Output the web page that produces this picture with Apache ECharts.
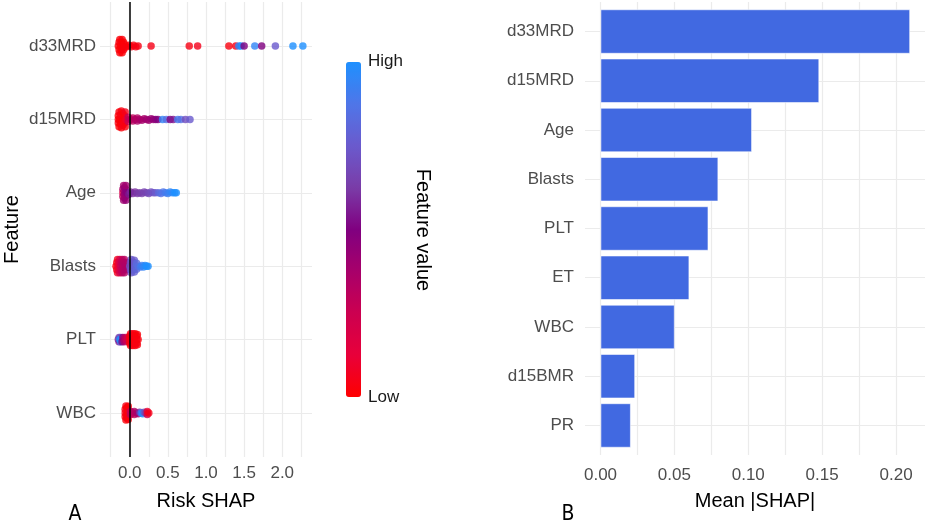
<!DOCTYPE html>
<html>
<head>
<meta charset="utf-8">
<script src="https://cdn.jsdelivr.net/npm/echarts@6/dist/echarts.min.js"></script>
<style>
    html, body {
        margin: 0;
        padding: 0;
        background: #fff;
    }
    #chart {
        width: 927px;
        height: 526px;
    }
</style>
</head>
<body>
<div id="chart"></div>
<script>
// panel A: beeswarm, one row per feature (top to bottom)
const features = ['d33MRD', 'd15MRD', 'Age', 'Blasts', 'PLT', 'WBC'];

// each point: [SHAP value, vertical swarm offset (rows), feature value 0..1]
const pts_d33MRD = [
    [-0.15, 0, 0.02], [-0.14, 0.05, 0.01], [-0.14, -0.05, 0.03], [-0.13, 0.09, 0.02], [-0.13, -0.09, 0.02],
    [-0.12, 0, 0.01], [-0.11, 0.05, 0.02], [-0.11, -0.05, 0.03], [-0.10, 0.09, 0.01], [-0.10, -0.09, 0.02],
    [-0.09, 0, 0.02], [-0.08, 0.05, 0.03], [-0.08, -0.05, 0.01], [-0.07, 0.02, 0.02], [-0.07, -0.02, 0.02],
    [-0.04, 0.01, 0.03], [-0.01, -0.01, 0.02], [0.02, 0.01, 0.04], [0.05, -0.01, 0.03], [0.08, 0.01, 0.05],
    [0.11, 0, 0.04], [0.28, 0, 0.05], [0.78, 0, 0.04], [0.89, 0, 0.06], [1.30, 0, 0.03], [1.39, 0, 0.05],
    [1.43, 0, 0.95], [1.46, 0, 1.0], [1.50, 0, 0.5], [1.64, 0, 0.95], [1.73, 0, 0.5], [1.91, 0, 0.75],
    [2.14, 0, 1.0], [2.27, 0, 1.0],
];
const pts_d15MRD = [
    [-0.15, 0, 0.02], [-0.15, 0.05, 0.03], [-0.15, -0.05, 0.01], [-0.14, 0.10, 0.02], [-0.14, -0.10, 0.03],
    [-0.13, 0, 0.02], [-0.12, 0.06, 0.01], [-0.12, -0.06, 0.04], [-0.11, 0.115, 0.02], [-0.11, -0.115, 0.03],
    [-0.10, 0.02, 0.02], [-0.09, 0.08, 0.05], [-0.09, -0.08, 0.02], [-0.08, 0, 0.03], [-0.07, 0.05, 0.04],
    [-0.07, -0.05, 0.02], [-0.06, 0.10, 0.03], [-0.06, -0.10, 0.06], [-0.05, 0, 0.08],
    [-0.02, 0.03, 0.25], [-0.02, -0.03, 0.28], [0.01, 0, 0.30], [0.04, 0.02, 0.32], [0.04, -0.02, 0.30],
    [0.07, 0, 0.34], [0.10, 0.02, 0.36], [0.10, -0.02, 0.33], [0.13, 0, 0.36], [0.16, 0.01, 0.38],
    [0.19, -0.01, 0.37], [0.22, 0, 0.40], [0.25, 0.01, 0.40], [0.28, -0.01, 0.42], [0.31, 0, 0.44],
    [0.34, 0, 0.46], [0.37, 0, 0.50], [0.43, 0, 0.95], [0.48, 0, 0.85], [0.53, 0, 0.50], [0.57, 0, 0.55],
    [0.63, 0, 0.90], [0.67, 0, 0.85], [0.73, 0, 0.70], [0.79, 0, 0.75],
];
const pts_Age = [
    [-0.09, 0, 0.15], [-0.09, 0.05, 0.30], [-0.09, -0.05, 0.35], [-0.08, 0.10, 0.40], [-0.08, -0.10, 0.38],
    [-0.07, 0.02, 0.42], [-0.07, 0.07, 0.40], [-0.07, -0.07, 0.44], [-0.06, 0, 0.45], [-0.05, 0.04, 0.42],
    [-0.05, -0.04, 0.46], [-0.05, 0.10, 0.44], [-0.05, -0.10, 0.40], [-0.04, 0, 0.48],
    [-0.01, 0.02, 0.55], [0.01, -0.01, 0.58], [0.04, 0.01, 0.60], [0.07, -0.01, 0.60], [0.10, 0.01, 0.62],
    [0.13, 0, 0.63], [0.16, 0.01, 0.64], [0.19, -0.01, 0.65], [0.22, 0, 0.66], [0.25, 0.01, 0.68],
    [0.28, -0.01, 0.70], [0.31, 0, 0.72], [0.34, 0, 0.75], [0.38, 0, 0.82], [0.41, 0.01, 0.85],
    [0.44, -0.01, 0.87], [0.47, 0, 0.90], [0.50, 0.01, 0.92], [0.53, -0.01, 0.95], [0.56, 0, 0.97],
    [0.59, 0, 1.0], [0.61, 0, 1.0],
];
const pts_Blasts = [
    [-0.18, 0, 0.03], [-0.17, 0.05, 0.05], [-0.17, -0.05, 0.04], [-0.16, 0.09, 0.08], [-0.16, -0.09, 0.06],
    [-0.15, 0, 0.10], [-0.14, 0.05, 0.15], [-0.14, -0.05, 0.18], [-0.13, 0.09, 0.22], [-0.13, -0.09, 0.20],
    [-0.12, 0, 0.26], [-0.11, 0.05, 0.28], [-0.11, -0.05, 0.30], [-0.10, 0.09, 0.30], [-0.10, -0.09, 0.28],
    [-0.09, 0, 0.32], [-0.08, 0.05, 0.33], [-0.08, -0.05, 0.35], [-0.07, 0.09, 0.34], [-0.07, -0.09, 0.32],
    [-0.06, 0, 0.35], [-0.05, 0.05, 0.36], [-0.05, -0.05, 0.34],
    [0.00, 0, 0.70], [0.01, 0.05, 0.72], [0.01, -0.05, 0.70], [0.02, 0.09, 0.74], [0.02, -0.09, 0.73],
    [0.04, 0, 0.75], [0.05, 0.05, 0.76], [0.05, -0.05, 0.74], [0.06, 0.08, 0.78], [0.06, -0.08, 0.75],
    [0.08, 0, 0.80], [0.09, 0.04, 0.80], [0.09, -0.04, 0.82], [0.11, 0, 0.84], [0.14, 0.01, 0.90],
    [0.16, -0.01, 0.92], [0.18, 0.01, 0.95], [0.20, -0.01, 0.97], [0.22, 0, 1.0], [0.24, 0, 1.0],
];
const pts_PLT = [
    [-0.15, 0, 0.60], [-0.14, 0.03, 0.55], [-0.14, -0.03, 0.65], [-0.12, 0.03, 0.85], [-0.12, -0.03, 0.70],
    [-0.11, 0, 0.90], [-0.13, 0, 1.0], [-0.10, 0.03, 0.50], [-0.09, -0.03, 0.45], [-0.08, 0, 0.40],
    [-0.07, 0.03, 0.35], [-0.06, -0.03, 0.30], [-0.05, 0, 0.30], [-0.04, 0.02, 0.25], [-0.03, -0.02, 0.20],
    [0.00, 0, 0.05], [0.00, 0.05, 0.03], [0.00, -0.05, 0.04], [0.01, 0.08, 0.02], [0.01, -0.08, 0.05],
    [0.03, 0, 0.03], [0.03, 0.05, 0.04], [0.03, -0.05, 0.02], [0.04, 0.08, 0.03], [0.04, -0.08, 0.05],
    [0.06, 0, 0.04], [0.06, 0.05, 0.02], [0.06, -0.05, 0.03], [0.07, 0.08, 0.04], [0.07, -0.08, 0.03],
    [0.09, 0, 0.02], [0.09, 0.05, 0.05], [0.09, -0.05, 0.04], [0.10, 0.07, 0.03], [0.10, -0.07, 0.02],
    [0.11, 0, 0.03],
];
const pts_WBC = [
    [-0.06, 0, 0.05], [-0.06, 0.05, 0.03], [-0.06, -0.05, 0.04], [-0.05, 0.095, 0.02], [-0.05, -0.095, 0.05],
    [-0.04, 0.02, 0.03], [-0.04, 0.07, 0.04], [-0.04, -0.07, 0.02], [-0.03, 0, 0.04], [-0.03, 0.05, 0.03],
    [-0.02, -0.04, 0.05], [-0.02, 0.09, 0.03], [-0.02, -0.09, 0.02],
    [0.01, 0.02, 0.30], [0.01, -0.02, 0.28], [0.04, 0, 0.32], [0.06, 0.02, 0.30], [0.06, -0.02, 0.34],
    [0.09, 0, 0.35], [0.11, 0.01, 0.38], [0.13, -0.01, 0.60], [0.15, 0, 0.95], [0.17, 0.01, 1.0],
    [0.19, -0.01, 0.70], [0.21, 0, 0.65], [0.23, 0.02, 0.20], [0.23, -0.02, 0.10], [0.25, 0, 0.05],
];
const swarmRows = [pts_d33MRD, pts_d15MRD, pts_Age, pts_Blasts, pts_PLT, pts_WBC];

const shapTicks = [-0.25, 0, 0.25, 0.5, 0.75, 1, 1.25, 1.5, 1.75, 2, 2.25];
const shapLabels = [0, 0.5, 1, 1.5, 2];

// panel B: mean |SHAP| bars (top to bottom)
const barNames = ['d33MRD', 'd15MRD', 'Age', 'Blasts', 'PLT', 'ET', 'WBC', 'd15BMR', 'PR'];
const barValues = [0.2095, 0.148, 0.1025, 0.0797, 0.073, 0.0601, 0.0502, 0.0234, 0.0205];
const meanTicks = [0, 0.025, 0.05, 0.075, 0.1, 0.125, 0.15, 0.175, 0.2];
const meanLabels = [0, 0.05, 0.1, 0.15, 0.2];

const FONT = '"Liberation Sans", Arial, sans-serif';
const GRID_LINE = { lineStyle: { color: '#EBEBEB', width: 1.2 } };
const tickLabel = {
    color: '#4D4D4D',
    fontSize: 17,
    fontFamily: FONT,
};
const axisTitle = {
    color: '#000',
    fontSize: 20,
    fontFamily: FONT,
};

let swarmData = [];
swarmRows.forEach((rows, idx) => {
    rows.forEach((p) => {
        swarmData.push([p[0], idx + p[1], p[2]]);
    });
});

const option = {
    animation: false,
    grid: [
        { left: 100, right: 615, top: 2, bottom: 69 },
        { left: 585, right: 2, top: 2, bottom: 71 },
        { left: 585, right: 2, top: 6.9, bottom: 75.9 },
    ],
    xAxis: [{
        gridIndex: 0,
        type: 'value',
        min: -0.39,
        max: 2.39,
        name: 'Risk SHAP',
        nameLocation: 'middle',
        nameGap: 34,
        nameTextStyle: axisTitle,
        axisLine: { show: false },
        axisTick: { show: false, customValues: shapTicks },
        axisLabel: Object.assign({}, tickLabel, {
            margin: 8,
            customValues: shapLabels,
            formatter: (v) => v.toFixed(1),
        }),
        splitLine: Object.assign({ show: true }, GRID_LINE),
    }, {
        gridIndex: 1,
        type: 'value',
        min: -0.0105,
        max: 0.2196,
        name: 'Mean |SHAP|',
        nameLocation: 'middle',
        nameGap: 36,
        nameTextStyle: axisTitle,
        axisLine: { show: false },
        axisTick: { show: false, customValues: meanTicks },
        axisLabel: Object.assign({}, tickLabel, {
            margin: 12,
            customValues: meanLabels,
            formatter: (v) => v.toFixed(2),
        }),
        splitLine: Object.assign({ show: true }, GRID_LINE),
    }, {
        gridIndex: 2,
        type: 'value',
        min: -0.0105,
        max: 0.2196,
        show: false,
    }],
    yAxis: [{
        gridIndex: 0,
        type: 'value',
        inverse: true,
        min: -0.6,
        max: 5.6,
        name: 'Feature',
        nameLocation: 'middle',
        nameGap: 78,
        nameTextStyle: axisTitle,
        axisLine: { show: false },
        axisTick: { show: false, customValues: [0, 1, 2, 3, 4, 5] },
        axisLabel: Object.assign({}, tickLabel, {
            margin: 4,
            customValues: [0, 1, 2, 3, 4, 5],
            formatter: (v) => features[v],
        }),
        splitLine: Object.assign({ show: true }, GRID_LINE),
    }, {
        gridIndex: 1,
        type: 'value',
        inverse: true,
        min: -0.6,
        max: 8.6,
        axisLine: { show: false },
        axisTick: { show: false, customValues: [0, 1, 2, 3, 4, 5, 6, 7, 8] },
        axisLabel: Object.assign({}, tickLabel, {
            margin: 11,
            customValues: [0, 1, 2, 3, 4, 5, 6, 7, 8],
            formatter: (v) => barNames[v],
        }),
        splitLine: Object.assign({ show: true }, GRID_LINE),
    }, {
        gridIndex: 2,
        type: 'category',
        inverse: true,
        data: barNames,
        show: false,
    }],
    visualMap: {
        type: 'continuous',
        seriesIndex: 0,
        dimension: 2,
        min: 0,
        max: 1,
        left: 346,
        top: 62,
        padding: 0,
        itemWidth: 15,
        itemHeight: 335,
        calculable: false,
        hoverLink: false,
        text: null,
        inRange: {
            color: ['#FF0000', '#E8003A', '#CC0050', '#A8006A', '#800080',
                    '#7A3CA8', '#6A5ACD', '#4F76E8', '#1E90FF'],
        },
    },
    series: [{
        type: 'scatter',
        xAxisIndex: 0,
        yAxisIndex: 0,
        symbolSize: 7.5,
        data: swarmData,
        markLine: {
            silent: true,
            symbol: ['none', 'none'],
            label: { show: false },
            lineStyle: { color: '#000', width: 1.5, type: 'solid' },
            data: [{ xAxis: 0 }],
        },
    }, {
        type: 'bar',
        xAxisIndex: 2,
        yAxisIndex: 2,
        data: barValues,
        barCategoryGap: '10%',
        itemStyle: {
            color: '#4169E1',
            borderColor: 'rgba(255, 255, 255, 0.7)',
            borderWidth: 0.8,
        },
    }],
    graphic: [{
        type: 'text',
        left: 368,
        top: 53,
        style: { text: 'High', fill: '#1a1a1a', fontSize: 17, fontFamily: FONT },
    }, {
        type: 'text',
        left: 368,
        top: 389,
        style: { text: 'Low', fill: '#1a1a1a', fontSize: 17, fontFamily: FONT },
    }, {
        type: 'text',
        x: 423,
        y: 230,
        rotation: -Math.PI / 2,
        style: {
            text: 'Feature value',
            fill: '#000',
            fontSize: 20,
            fontFamily: FONT,
            align: 'center',
            verticalAlign: 'middle',
        },
    }, {
        type: 'text',
        x: 75,
        y: 515,
        style: {
            text: 'A',
            fill: '#000',
            fontSize: 21,
            fontFamily: '"Liberation Sans Narrow", "DejaVu Sans Condensed", sans-serif',
            align: 'center',
            verticalAlign: 'middle',
        },
    }, {
        type: 'text',
        x: 568,
        y: 515,
        style: {
            text: 'B',
            fill: '#000',
            fontSize: 21,
            fontFamily: '"Liberation Sans Narrow", "DejaVu Sans Condensed", sans-serif',
            align: 'center',
            verticalAlign: 'middle',
        },
    }],
};

let myChart = echarts.init(document.getElementById('chart'));
myChart.setOption(option);
</script>
</body>
</html>
